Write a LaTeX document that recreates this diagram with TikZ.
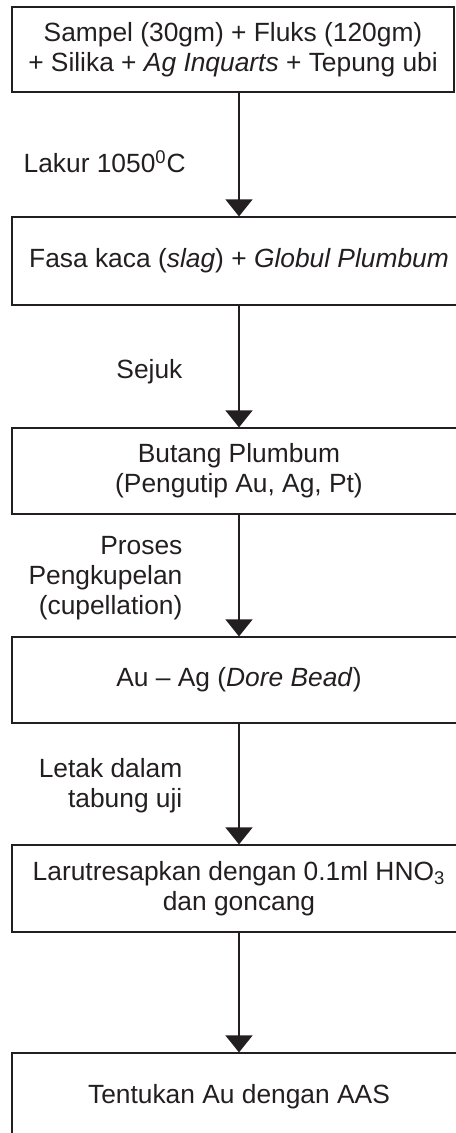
\documentclass[tikz,border=0pt]{standalone}
\usepackage{fontspec}
\setmainfont{Liberation Sans}
\usetikzlibrary{arrows.meta}
\definecolor{ink}{RGB}{35,31,32}

\begin{document}
\begin{tikzpicture}[x=0.02cm, y=-0.02cm, ink, line width=0.7pt,
		every node/.style={font=\fontsize{15}{17}\selectfont, text=ink},
		stepbox/.style={draw, rectangle, align=center, inner sep=0pt,
			minimum width=9.08cm, minimum height=1.74cm},
		steplabel/.style={inner sep=0pt},
		flow/.style={-{Triangle[width=0.54cm, length=0.34cm]}}]

	\useasboundingbox (0, 0) rectangle (456, 1133);
	\clip (0, 0) rectangle (456, 1133);

		\node[stepbox, minimum width=8.84cm, minimum height=1.7cm] (sampel) at(233, 49.5)
			{Sampel (30gm) + Fluks (120gm)\\+ Silika + \textit{Ag Inquarts} + Tepung ubi};
		\node[stepbox, minimum height=1.76cm] (kaca) at(239, 261)
			{Fasa kaca (\textit{slag}) + \textit{Globul Plumbum}};
		\node[stepbox, minimum height=1.72cm] (butang) at(239, 471)
			{Butang Plumbum\\(Pengutip Au, Ag, Pt)};
		\node[stepbox, minimum height=1.72cm] (dore) at(239, 680)
			{Au -- Ag (\textit{Dore Bead})};
		\node[stepbox] (larut) at(239, 888.5)
			{Larutresapkan dengan 0.1ml HNO\textsubscript{3}\\dan goncang};
		\node[stepbox] (aas) at(239, 1096.5)
			{Tentukan Au dengan AAS};

		\draw[flow] (kaca.north |- sampel.south) to (kaca.north);
		\draw[flow] (kaca.south) to (butang.north);
		\draw[flow] (butang.south) to (dore.north);
		\draw[flow] (dore.south) to (larut.north);
		\draw[flow] (larut.south) to (aas.north);

		\node[steplabel, anchor=west] (lakur) at(23, 162){Lakur 1050\textsuperscript{0}C};
		\node[steplabel, anchor=east] (sejuk) at(183, 371.5){Sejuk};
		\node[steplabel, anchor=east, align=right] (kupel) at(183, 578){Proses\\Pengkupelan\\(cupellation)};
		\node[steplabel, anchor=east, align=right] (letak) at(183, 786){Letak dalam\\tabung uji};

	\end{tikzpicture}
\end{document}
